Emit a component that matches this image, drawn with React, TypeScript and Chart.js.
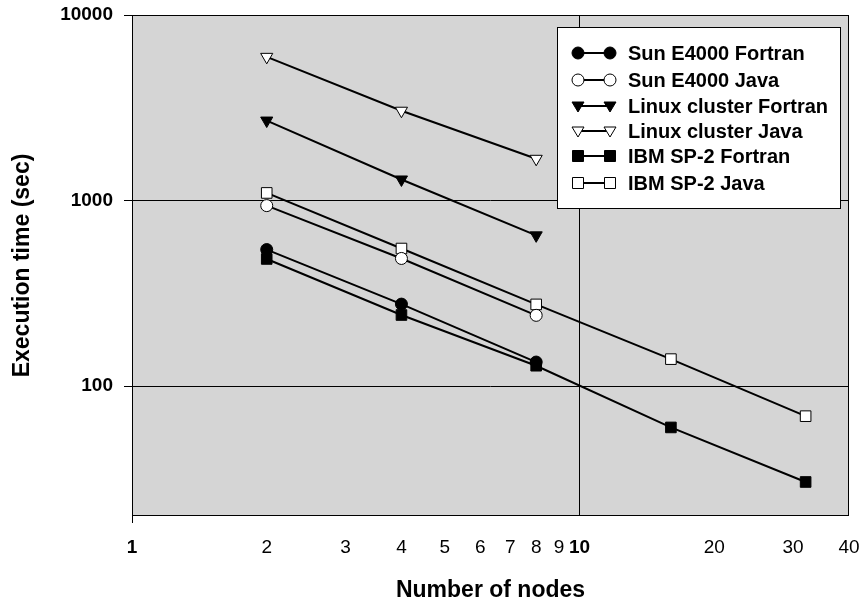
import React, { useEffect, useRef } from "react";
import { Chart, registerables } from "chart.js";

Chart.register(...registerables);

const nodesShort = [2, 4, 8];
const nodesLong = [2, 4, 8, 16, 32];
const sunFortran = [545, 277, 135];
const sunJava = [940, 488, 241];
const linuxFortran = [2700, 1300, 650];
const linuxJava = [5950, 3050, 1680];
const ibmFortran = [485, 242, 129, 60, 30.5];
const ibmJava = [1100, 552, 276, 140, 69];

const xTickValues = [1, 2, 3, 4, 5, 6, 7, 8, 9, 10, 20, 30, 40];
const yTickValues = [100, 1000, 10000];

const seriesLabels = [
  "Sun E4000 Fortran",
  "Sun E4000 Java",
  "Linux cluster Fortran",
  "Linux cluster Java",
  "IBM SP-2 Fortran",
  "IBM SP-2 Java",
];

const FONT = "'Liberation Sans', Arial, sans-serif";
const BG = "#D5D5D5";

type Marker = { style: string; fill: string };
const markers: Marker[] = [
  { style: "circle", fill: "#000" },
  { style: "circle", fill: "#fff" },
  { style: "tri", fill: "#000" },
  { style: "tri", fill: "#fff" },
  { style: "rect", fill: "#000" },
  { style: "rect", fill: "#fff" },
];

function toPoints(xs: number[], ys: number[]) {
  return xs.map((x, i) => ({ x, y: ys[i] }));
}

function drawMarker(ctx: CanvasRenderingContext2D, m: Marker, x: number, y: number) {
  ctx.save();
  ctx.fillStyle = m.fill;
  ctx.strokeStyle = "#000";
  ctx.lineWidth = 1;
  ctx.beginPath();
  if (m.style === "circle") {
    ctx.arc(x, y, 6, 0, Math.PI * 2);
  } else if (m.style === "tri") {
    ctx.moveTo(x - 6, y - 4);
    ctx.lineTo(x + 6, y - 4);
    ctx.lineTo(x, y + 6);
    ctx.closePath();
  } else {
    ctx.rect(x - 5.5, y - 5.5, 11, 11);
  }
  ctx.fill();
  ctx.stroke();
  ctx.restore();
}

const bgPlugin = {
  id: "bgPlugin",
  beforeDraw(chart: any) {
    const { ctx, chartArea } = chart;
    ctx.save();
    ctx.fillStyle = BG;
    ctx.fillRect(chartArea.left, chartArea.top, chartArea.right - chartArea.left, chartArea.bottom - chartArea.top);
    ctx.restore();
  },
  beforeDatasetsDraw(chart: any) {
    const { ctx, chartArea } = chart;
    ctx.save();
    ctx.strokeStyle = "#000";
    ctx.lineWidth = 1;
    ctx.strokeRect(
      Math.round(chartArea.left) + 0.5,
      Math.round(chartArea.top) + 0.5,
      Math.round(chartArea.right - chartArea.left) - 1,
      Math.round(chartArea.bottom - chartArea.top) - 1
    );
    ctx.restore();
  },
  afterDatasetsDraw(chart: any) {
    const { ctx } = chart;
    ctx.save();
    const bx = 557.5, by = 27.5, bw = 283, bh = 181;
    ctx.fillStyle = "#fff";
    ctx.fillRect(bx, by, bw, bh);
    ctx.strokeStyle = "#000";
    ctx.lineWidth = 1;
    ctx.strokeRect(bx, by, bw, bh);
    const rowY = [53, 80, 106, 131, 156, 183];
    seriesLabels.forEach((label, i) => {
      const y = rowY[i];
      ctx.strokeStyle = "#000";
      ctx.lineWidth = 2;
      ctx.beginPath();
      ctx.moveTo(578, y);
      ctx.lineTo(610, y);
      ctx.stroke();
      drawMarker(ctx, markers[i], 578, y);
      drawMarker(ctx, markers[i], 610, y);
      ctx.fillStyle = "#000";
      ctx.font = `bold 20px ${FONT}`;
      ctx.textAlign = "left";
      ctx.textBaseline = "middle";
      ctx.fillText(label, 628, y + 1);
    });
    ctx.restore();
  },
};

function ds(label: string, data: any[], style: string, fill: string, radius: number, rotation = 0) {
  return {
    label,
    data,
    borderColor: "#000",
    borderWidth: 2,
    pointStyle: style,
    pointRotation: rotation,
    pointRadius: radius,
    pointBackgroundColor: fill,
    pointBorderColor: "#000",
    pointBorderWidth: 1,
    fill: false,
    tension: 0,
  };
}

export default function App() {
  const ref = useRef<HTMLCanvasElement>(null);
  useEffect(() => {
    if (!ref.current) return;
    const chart = new Chart(ref.current, {
      type: "line",
      data: {
        datasets: [
          ds(seriesLabels[0], toPoints(nodesShort, sunFortran), "circle", "#000", 6),
          ds(seriesLabels[1], toPoints(nodesShort, sunJava), "circle", "#fff", 6),
          ds(seriesLabels[2], toPoints(nodesShort, linuxFortran), "triangle", "#000", 7, 180),
          ds(seriesLabels[3], toPoints(nodesShort, linuxJava), "triangle", "#fff", 7, 180),
          ds(seriesLabels[4], toPoints(nodesLong, ibmFortran), "rect", "#000", 7.5),
          ds(seriesLabels[5], toPoints(nodesLong, ibmJava), "rect", "#fff", 7.5),
        ] as any,
      },
      options: {
        responsive: false,
        animation: false,
        events: [],
        layout: { padding: { left: 0, top: 15, right: 11, bottom: 0 } },
        plugins: { legend: { display: false }, tooltip: { enabled: false }, title: { display: false } },
        scales: {
          x: {
            type: "logarithmic",
            min: 1,
            max: 40,
            afterBuildTicks: (scale: any) => {
              scale.ticks = xTickValues.map((v) => ({ value: v }));
            },
            afterFit: (scale: any) => {
              scale.height = 605 - 516;
              scale.paddingLeft = 0;
              scale.paddingRight = 0;
            },
            border: { display: false },
            grid: {
              color: (c: any) => (c.tick && c.tick.value === 10 ? "#000" : "rgba(0,0,0,0)"),
              tickColor: (c: any) => (c.tick && c.tick.value === 1 ? "#000" : "rgba(0,0,0,0)"),
              tickLength: 7,
              lineWidth: 1,
            },
            ticks: {
              autoSkip: false,
              maxRotation: 0,
              minRotation: 0,
              padding: 13,
              color: "#000",
              font: (c: any) => ({
                family: FONT,
                size: 19,
                weight: c.tick && (c.tick.value === 1 || c.tick.value === 10) ? "bold" : "normal",
              }),
              callback: (v: any) => String(v),
            },
            title: {
              display: true,
              text: "Number of nodes",
              color: "#000",
              font: { family: FONT, size: 23, weight: "bold" },
              padding: { top: 0, bottom: 1 },
            },
          },
          y: {
            type: "logarithmic",
            min: 20,
            max: 10000,
            afterBuildTicks: (scale: any) => {
              scale.ticks = yTickValues.map((v) => ({ value: v }));
            },
            afterFit: (scale: any) => {
              scale.width = 132;
              scale.paddingTop = 0;
              scale.paddingBottom = 0;
            },
            border: { display: false },
            grid: {
              color: "#000",
              tickColor: "#000",
              tickLength: 8,
              lineWidth: 1,
            },
            ticks: {
              padding: 11,
              color: "#000",
              font: { family: FONT, size: 19, weight: "bold" },
              callback: (v: any) => String(v),
            },
            title: {
              display: true,
              text: "Execution time (sec)",
              color: "#000",
              font: { family: FONT, size: 23, weight: "bold" },
              padding: { top: 9, bottom: 0 },
            },
          },
        },
      } as any,
      plugins: [bgPlugin],
    });
    return () => chart.destroy();
  }, []);
  return (
    <div style={{ position: "absolute", left: 0, top: 0, width: 860, height: 605 }}>
      <canvas ref={ref} width={860} height={605} />
    </div>
  );
}
